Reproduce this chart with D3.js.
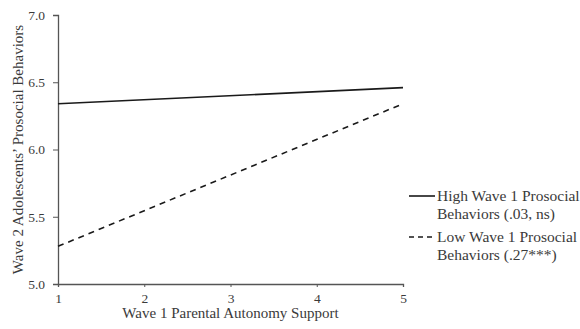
<!DOCTYPE html>
<html>
<head>
<meta charset="utf-8">
<script src="https://cdn.jsdelivr.net/npm/d3@7"></script>
<style>
  body { margin: 0; background: #fff; }
  svg text { font-family: "Liberation Serif", "Times New Roman", serif; fill: #3a3a3a; }
</style>
</head>
<body>
<svg id="chart"></svg>
<script>
const xValues = [1, 5];
const highValues = [6.34, 6.46];
const lowValues = [5.28, 6.34];
const yTicks = [5.0, 5.5, 6.0, 6.5, 7.0];
const xTicks = [1, 2, 3, 4, 5];
const legendLabels = [
  ["High Wave 1 Prosocial", "Behaviors (.03, ns)"],
  ["Low Wave 1 Prosocial", "Behaviors (.27***)"]
];

const width = 580, height = 329;
const margin = { top: 15, right: 175, bottom: 45, left: 58 };
const innerW = 403 - margin.left;
const innerH = 284 - margin.top;

const svg = d3.select("#chart")
  .attr("width", width)
  .attr("height", height);

const g = svg.append("g")
  .attr("transform", `translate(${margin.left},${margin.top})`);

const x = d3.scaleLinear().domain([1, 5]).range([0, innerW]);
const y = d3.scaleLinear().domain([5, 7]).range([innerH, 0]);

const yAxis = g.append("g")
  .call(d3.axisLeft(y).tickValues(yTicks).tickFormat(d3.format(".1f")).tickSize(5).tickPadding(8));
yAxis.select(".domain").attr("stroke", "#555").attr("stroke-width", 1.3);
yAxis.selectAll(".tick line").attr("stroke", "#555");
yAxis.selectAll("text").style("font-size", "13.5px").attr("fill", "#3a3a3a");

const xAxis = g.append("g")
  .attr("transform", `translate(0,${innerH})`)
  .call(d3.axisBottom(x).tickValues(xTicks).tickFormat(d3.format("d")).tickSizeOuter(0).tickSize(3).tickPadding(6));
xAxis.select(".domain").attr("stroke", "#555").attr("stroke-width", 1.3);
xAxis.selectAll(".tick line").attr("stroke", "#555");
xAxis.selectAll("text").style("font-size", "13.5px").attr("fill", "#3a3a3a");

const line = d3.line()
  .x((d, i) => x(xValues[i]))
  .y(d => y(d));

g.append("path")
  .datum(highValues)
  .attr("d", line)
  .attr("fill", "none")
  .attr("stroke", "#1a1a1a")
  .attr("stroke-width", 1.6);

g.append("path")
  .datum(lowValues)
  .attr("d", line)
  .attr("fill", "none")
  .attr("stroke", "#1a1a1a")
  .attr("stroke-width", 1.6)
  .attr("stroke-dasharray", "6,5");

// axis titles
svg.append("text")
  .attr("x", margin.left + innerW / 2)
  .attr("y", 318)
  .attr("text-anchor", "middle")
  .style("font-size", "15px")
  .text("Wave 1 Parental Autonomy Support");

svg.append("text")
  .attr("transform", `translate(23,${margin.top + innerH / 2}) rotate(-90)`)
  .attr("text-anchor", "middle")
  .style("font-size", "15px")
  .text("Wave 2 Adolescents\u2019 Prosocial Behaviors");

// legend
const legend = svg.append("g").attr("transform", "translate(409,196)");
legendLabels.forEach((lines, i) => {
  const row = legend.append("g").attr("transform", `translate(0,${i * 41})`);
  row.append("line")
    .attr("x1", 0).attr("x2", 26)
    .attr("y1", 0).attr("y2", 0)
    .attr("stroke", "#1a1a1a")
    .attr("stroke-width", 1.6)
    .attr("stroke-dasharray", i === 1 ? "5,4" : null);
  lines.forEach((t, j) => {
    row.append("text")
      .attr("x", 28)
      .attr("y", j * 18 + 5)
      .style("font-size", "15.5px")
      .text(t);
  });
});
</script>
</body>
</html>
